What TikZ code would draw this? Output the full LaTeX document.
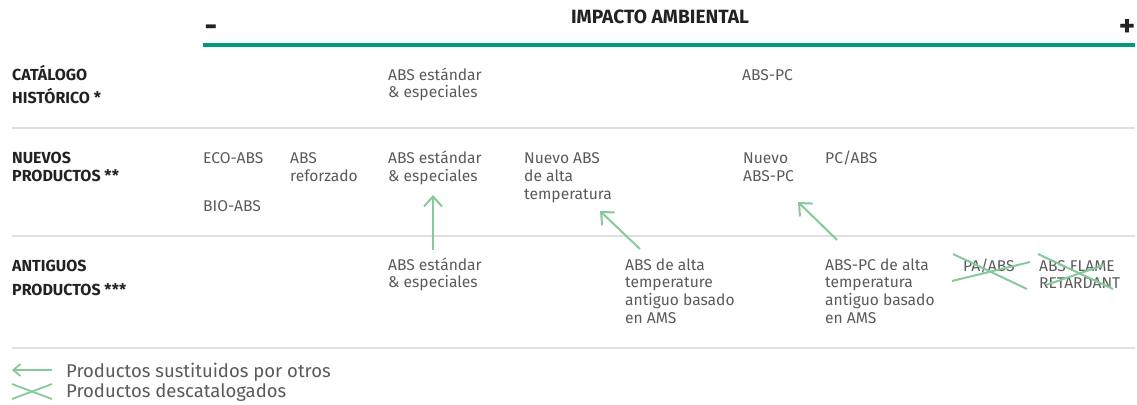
\documentclass[tikz,border=0pt]{standalone}
\usepackage{fontspec}
\setmainfont{Fira Sans}
\usetikzlibrary{arrows.meta}
\definecolor{teal1}{HTML}{00997A}
\definecolor{gtxt}{HTML}{5A5A5A}
\definecolor{dtxt}{HTML}{222222}
\definecolor{sepc}{HTML}{E0E0E0}
\definecolor{grn}{HTML}{86C99B}
\newcommand\mlines[2]{\vtop{\baselineskip=#1\lineskiplimit=-20pt\lineskip=0pt\halign{##\hfil\cr#2\crcr}}}
\begin{document}
\begin{tikzpicture}[x=1pt,y=-1pt,
 item/.style={anchor=base west, inner sep=0pt, text=gtxt, font=\fontsize{15.6}{17.6}\selectfont},
 legtext/.style={anchor=base west, inner sep=0pt, text=gtxt, font=\fontsize{18.5}{20}\selectfont},
 rowlabel/.style={anchor=base west, inner sep=0pt, text=dtxt, font=\fontsize{16}{18}\selectfont\bfseries},
 sepline/.style={draw=sepc, line width=1.5pt},
 subst/.style={draw=grn, line width=2pt, -{Straight Barb[length=10pt,width=18pt,line width=2pt]}},
 xline/.style={draw=grn, line width=2pt},
]
\useasboundingbox (0,0) rectangle (1137,404);

% header
\node[anchor=base, inner sep=0pt, text=dtxt, font=\fontsize{19.2}{22}\selectfont\bfseries] (title) at (660,24) {IMPACTO AMBIENTAL};
\node[anchor=base, inner sep=0pt, text=dtxt, font=\fontsize{31}{34}\selectfont\bfseries] (minus) at (211,37) {-};
\node[anchor=base, inner sep=0pt, text=dtxt, font=\fontsize{31}{34}\selectfont\bfseries] (plus) at (1127,37) {+};
\coordinate (axL) at (203,45);
\coordinate (axR) at (1135,45);
\draw[teal1, line width=4pt] (axL) -- (axR);

% separators
\coordinate (s1L) at (12,128); \coordinate (s1R) at (1135,128);
\coordinate (s2L) at (12,236); \coordinate (s2R) at (1135,236);
\coordinate (s3L) at (12,348); \coordinate (s3R) at (1135,348);
\draw[sepline] (s1L) -- (s1R);
\draw[sepline] (s2L) -- (s2R);
\draw[sepline] (s3L) -- (s3R);

% row labels
\node[rowlabel] (lab1) at (12,81) {\mlines{22pt}{CATÁLOGO\cr HISTÓRICO *}};
\node[rowlabel] (lab2) at (12,163) {\mlines{18pt}{NUEVOS\cr PRODUCTOS **}};
\node[rowlabel] (lab3) at (12,271) {\mlines{24pt}{ANTIGUOS\cr PRODUCTOS ***}};

% row 1
\node[item] (r1a) at (388,81) {\mlines{17pt}{ABS estándar\cr \& especiales}};
\node[item] (r1b) at (742,81) {ABS-PC};

% row 2
\node[item] (r2eco) at (203,163) {ECO-ABS};
\node[item] (r2bio) at (203,211) {BIO-ABS};
\node[item] (r2ref) at (290,163) {\mlines{18pt}{ABS\cr reforzado}};
\node[item] (r2std) at (388,163) {\mlines{18pt}{ABS estándar\cr \& especiales}};
\node[item] (r2ht) at (524,163) {\mlines{18pt}{Nuevo ABS\cr de alta\cr temperatura}};
\node[item] (r2pc) at (743,163) {\mlines{18pt}{Nuevo\cr ABS-PC}};
\node[item] (r2pcabs) at (825,163) {PC/ABS};

% row 3
\node[item] (r3std) at (388,270) {\mlines{17.7pt}{ABS estándar\cr \& especiales}};
\node[item] (r3ht) at (625,270) {\mlines{17.7pt}{ABS de alta\cr temperature\cr antiguo basado\cr en AMS}};
\node[item] (r3pc) at (825,270) {\mlines{17.7pt}{ABS-PC de alta\cr temperatura\cr antiguo basado\cr en AMS}};
\node[item] (r3pa) at (963,271) {PA/ABS};
\node[item] (r3fr) at (1039,271) {\mlines{17.7pt}{ABS FLAME\cr RETARDANT}};

% substitution arrows
\coordinate (a1s) at (433,250); \coordinate (a1t) at (433,195);
\coordinate (a2s) at (640,249); \coordinate (a2t) at (600,211);
\coordinate (a3s) at (837,240); \coordinate (a3t) at (798,202);
\draw[subst] (a1s) -- (a1t);
\draw[subst] (a2s) -- (a2t);
\draw[subst] (a3s) -- (a3t);

% discontinued crosses
\coordinate (p1a) at (952,281); \coordinate (p1b) at (1030,262);
\coordinate (p2a) at (953,254); \coordinate (p2b) at (1027,289);
\draw[xline] (p1a) -- (p1b);
\draw[xline] (p2a) -- (p2b);
\coordinate (f1a) at (1038,254); \coordinate (f1b) at (1113,289);
\coordinate (f2a) at (1046,285); \coordinate (f2b) at (1104,265);
\draw[xline] (f1a) -- (f1b);
\draw[xline] (f2a) -- (f2b);

% legend
\coordinate (lg1s) at (52,370); \coordinate (lg1t) at (12,370);
\draw[draw=grn, line width=1.8pt, -{Straight Barb[length=7pt,width=12pt,line width=1.8pt]}] (lg1s) -- (lg1t);
\node[legtext] (lg1) at (66,377) {Productos sustituidos por otros};
\coordinate (lx1a) at (12,384); \coordinate (lx1b) at (52,399);
\coordinate (lx2a) at (12,399); \coordinate (lx2b) at (52,384);
\draw[xline, line width=1.8pt] (lx1a) -- (lx1b);
\draw[xline, line width=1.8pt] (lx2a) -- (lx2b);
\node[legtext] (lg2) at (66,397) {Productos descatalogados};
\end{tikzpicture}
\end{document}
